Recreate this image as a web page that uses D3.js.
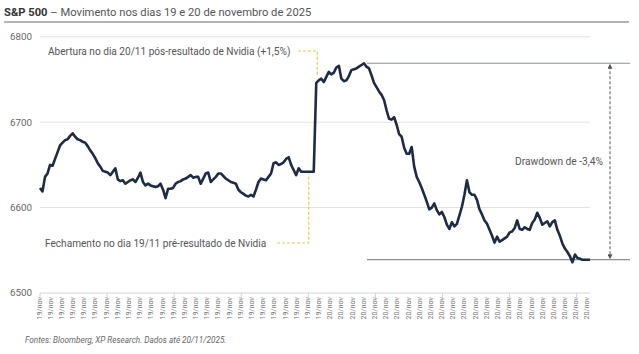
<!DOCTYPE html>
<html>
<head>
<meta charset="utf-8">
<script src="https://cdn.jsdelivr.net/npm/d3@7"></script>
<style>
  html, body { margin: 0; padding: 0; background: #fff; }
  svg { display: block; font-family: Roboto, "Noto Sans", sans-serif; }
</style>
</head>
<body>
<div id="chart"></div>
<script>
// S&P 500 intraday, 19/nov (pre Nvidia) and 20/nov (post Nvidia)
const day19 = [
  6623, 6619, 6636, 6640, 6650, 6649, 6657, 6665, 6673, 6676,
  6679, 6680, 6684, 6687, 6683, 6680, 6679, 6677, 6676, 6672,
  6667, 6663, 6658, 6652, 6648, 6643, 6642, 6641, 6638, 6642,
  6646, 6633, 6631, 6632, 6628, 6630, 6632, 6633, 6630, 6635,
  6641, 6630, 6626, 6628, 6626, 6625, 6624, 6625, 6628, 6621,
  6611, 6622, 6622, 6623, 6628, 6630, 6631, 6633, 6634, 6636,
  6638, 6635, 6636, 6636, 6628, 6634, 6640, 6641, 6630, 6633,
  6636, 6640, 6640, 6637, 6634, 6632, 6630, 6629, 6628, 6621,
  6618, 6616, 6614, 6613, 6615, 6613, 6621, 6630, 6634, 6633,
  6632, 6636, 6640, 6652, 6653, 6650, 6651, 6653, 6657, 6659,
  6650, 6644, 6638, 6646, 6642, 6642, 6642, 6642, 6642, 6642
];
const day20 = [
  6746, 6749, 6751, 6747, 6753, 6759, 6756, 6758, 6764, 6766,
  6751, 6748, 6749, 6754, 6761, 6762, 6763, 6765, 6767, 6769,
  6765, 6763, 6755, 6746, 6741, 6736, 6732, 6726, 6714, 6704,
  6703, 6706, 6697, 6686, 6683, 6670, 6663, 6663, 6671, 6648,
  6636, 6630, 6623, 6615, 6607, 6598, 6600, 6605, 6597, 6592,
  6595, 6589, 6580, 6575, 6583, 6578, 6581, 6591, 6601, 6615,
  6632, 6618, 6615, 6615, 6609, 6598, 6592, 6585, 6581, 6574,
  6567, 6559, 6566, 6560, 6562, 6564, 6566, 6571, 6572, 6576,
  6585, 6575, 6574, 6577, 6575, 6574, 6582, 6586, 6594, 6588,
  6580, 6582, 6584, 6578, 6583, 6585, 6574, 6567, 6558, 6552,
  6548, 6543, 6536, 6545, 6541, 6540, 6539, 6539, 6539, 6539
];
const values = day19.concat(day20);

// category labels shown under the axis
const dateLabels = [].concat(Array(26).fill('19/nov'), Array(24).fill('20/nov'));
const yTicks = [6500, 6600, 6700, 6800];

const W = 639, H = 354;
const NAVY = '#1d2b44', YELLOW = '#f2c744';

const svg = d3.select('#chart').append('svg').attr('width', W).attr('height', H);

// title
const title = svg.append('text').attr('x', 4).attr('y', 16)
  .style('font-size', '11.2px').attr('fill', '#555');
title.append('tspan').attr('font-weight', 700).attr('fill', '#333').text('S&P 500');
title.append('tspan').text(' – Movimento nos dias 19 e 20 de novembro de 2025');
svg.append('line').attr('x1', 4).attr('x2', 629).attr('y1', 22).attr('y2', 22)
  .attr('stroke', '#9a9a9a').attr('stroke-width', 1.5);

const x = d3.scaleLinear().domain([0, values.length - 1]).range([40, 590]);
const y = d3.scaleLinear().domain([6500, 6800]).range([293, 36.8]);
const xl = d3.scalePoint().domain(d3.range(dateLabels.length)).range([40, 587.9]);

// grid
svg.append('g').selectAll('line').data(yTicks.slice(1)).join('line')
  .attr('x1', 40).attr('x2', 590)
  .attr('y1', d => y(d)).attr('y2', d => y(d))
  .attr('stroke', '#e2e2e2').attr('stroke-width', 1);

svg.append('g').selectAll('text').data(yTicks).join('text')
  .attr('x', 32).attr('y', d => y(d)).attr('dy', '0.35em')
  .attr('text-anchor', 'end').attr('fill', '#666')
  .style('font-size', '9.8px').text(d => d);

// x axis
const ax = svg.append('g');
ax.append('line').attr('x1', 40).attr('x2', 590).attr('y1', y(6500)).attr('y2', y(6500))
  .attr('stroke', '#d4d4d4');
ax.selectAll('line.tk').data(d3.range(0, dateLabels.length, 6)).join('line')
  .attr('class', 'tk')
  .attr('x1', d => xl(d)).attr('x2', d => xl(d))
  .attr('y1', y(6500)).attr('y2', y(6500) + 5)
  .attr('stroke', '#d4d4d4');
ax.selectAll('text').data(dateLabels).join('text')
  .attr('transform', (d, i) => `translate(${xl(i) - 1},297) rotate(-90)`)
  .attr('text-anchor', 'end').attr('dy', '0.35em')
  .attr('fill', '#777').style('font-size', '7.2px')
  .text(d => d);

// drawdown reference lines
const iMax = d3.maxIndex(values);
const vMax = values[iMax], vEnd = values[values.length - 1];
svg.append('g').selectAll('line').data([vMax, vEnd]).join('line')
  .attr('x1', x(iMax) + 3).attr('x2', 630)
  .attr('y1', d => y(d)).attr('y2', d => y(d))
  .attr('stroke', '#8a8f99').attr('stroke-width', 1.2);

// line
svg.append('path').datum(values)
  .attr('fill', 'none').attr('stroke', NAVY).attr('stroke-width', 2.6)
  .attr('stroke-linejoin', 'round')
  .attr('d', d3.line().x((d, i) => x(i)).y(d => y(d)));

// arrow
const defs = svg.append('defs');
defs.append('marker').attr('id', 'ah').attr('viewBox', '0 0 10 10')
  .attr('refX', 5).attr('refY', 5).attr('markerWidth', 5).attr('markerHeight', 5)
  .attr('orient', 'auto-start-reverse')
  .append('path').attr('d', 'M0,0L10,5L0,10z').attr('fill', '#555');
svg.append('line').attr('x1', 610).attr('x2', 610)
  .attr('y1', y(vMax) + 3).attr('y2', y(vEnd) - 3)
  .attr('stroke', '#555').attr('stroke-width', 1).attr('stroke-dasharray', '3,2')
  .attr('marker-start', 'url(#ah)').attr('marker-end', 'url(#ah)');
svg.append('text').attr('x', 603).attr('y', 161).attr('dy', '0.35em')
  .attr('text-anchor', 'end').attr('fill', '#555').style('font-size', '10.2px')
  .text('Drawdown de -' + d3.format('.1f')((1 - vEnd / vMax) * 100).replace('.', ',') + '%');

// annotations
const iOpen = day19.length;
const annot = svg.append('g').attr('fill', 'none').attr('stroke', YELLOW)
  .attr('stroke-width', 1.2).attr('stroke-dasharray', '3,2');
annot.append('path')
  .attr('d', `M298,51H${x(iOpen) + 1}V${y(values[iOpen]) - 8}`);
annot.append('path')
  .attr('d', `M277,243H${x(iOpen - 3)}V${y(values[iOpen - 1]) + 2}`);

svg.append('text').attr('x', 48).attr('y', 51).attr('dy', '0.35em')
  .attr('fill', '#555').style('font-size', '10.1px')
  .text('Abertura no dia 20/11 pós-resultado de Nvidia (+1,5%)');
svg.append('text').attr('x', 45).attr('y', 243).attr('dy', '0.35em')
  .attr('fill', '#555').style('font-size', '10.1px')
  .text('Fechamento no dia 19/11 pré-resultado de Nvidia');

// source
svg.append('text').attr('x', 25).attr('y', 340).attr('dy', '0.35em')
  .attr('fill', '#666').style('font-size', '8.2px').style('font-style', 'italic')
  .text('Fontes: Bloomberg, XP Research. Dados até 20/11/2025.');
</script>
</body>
</html>
